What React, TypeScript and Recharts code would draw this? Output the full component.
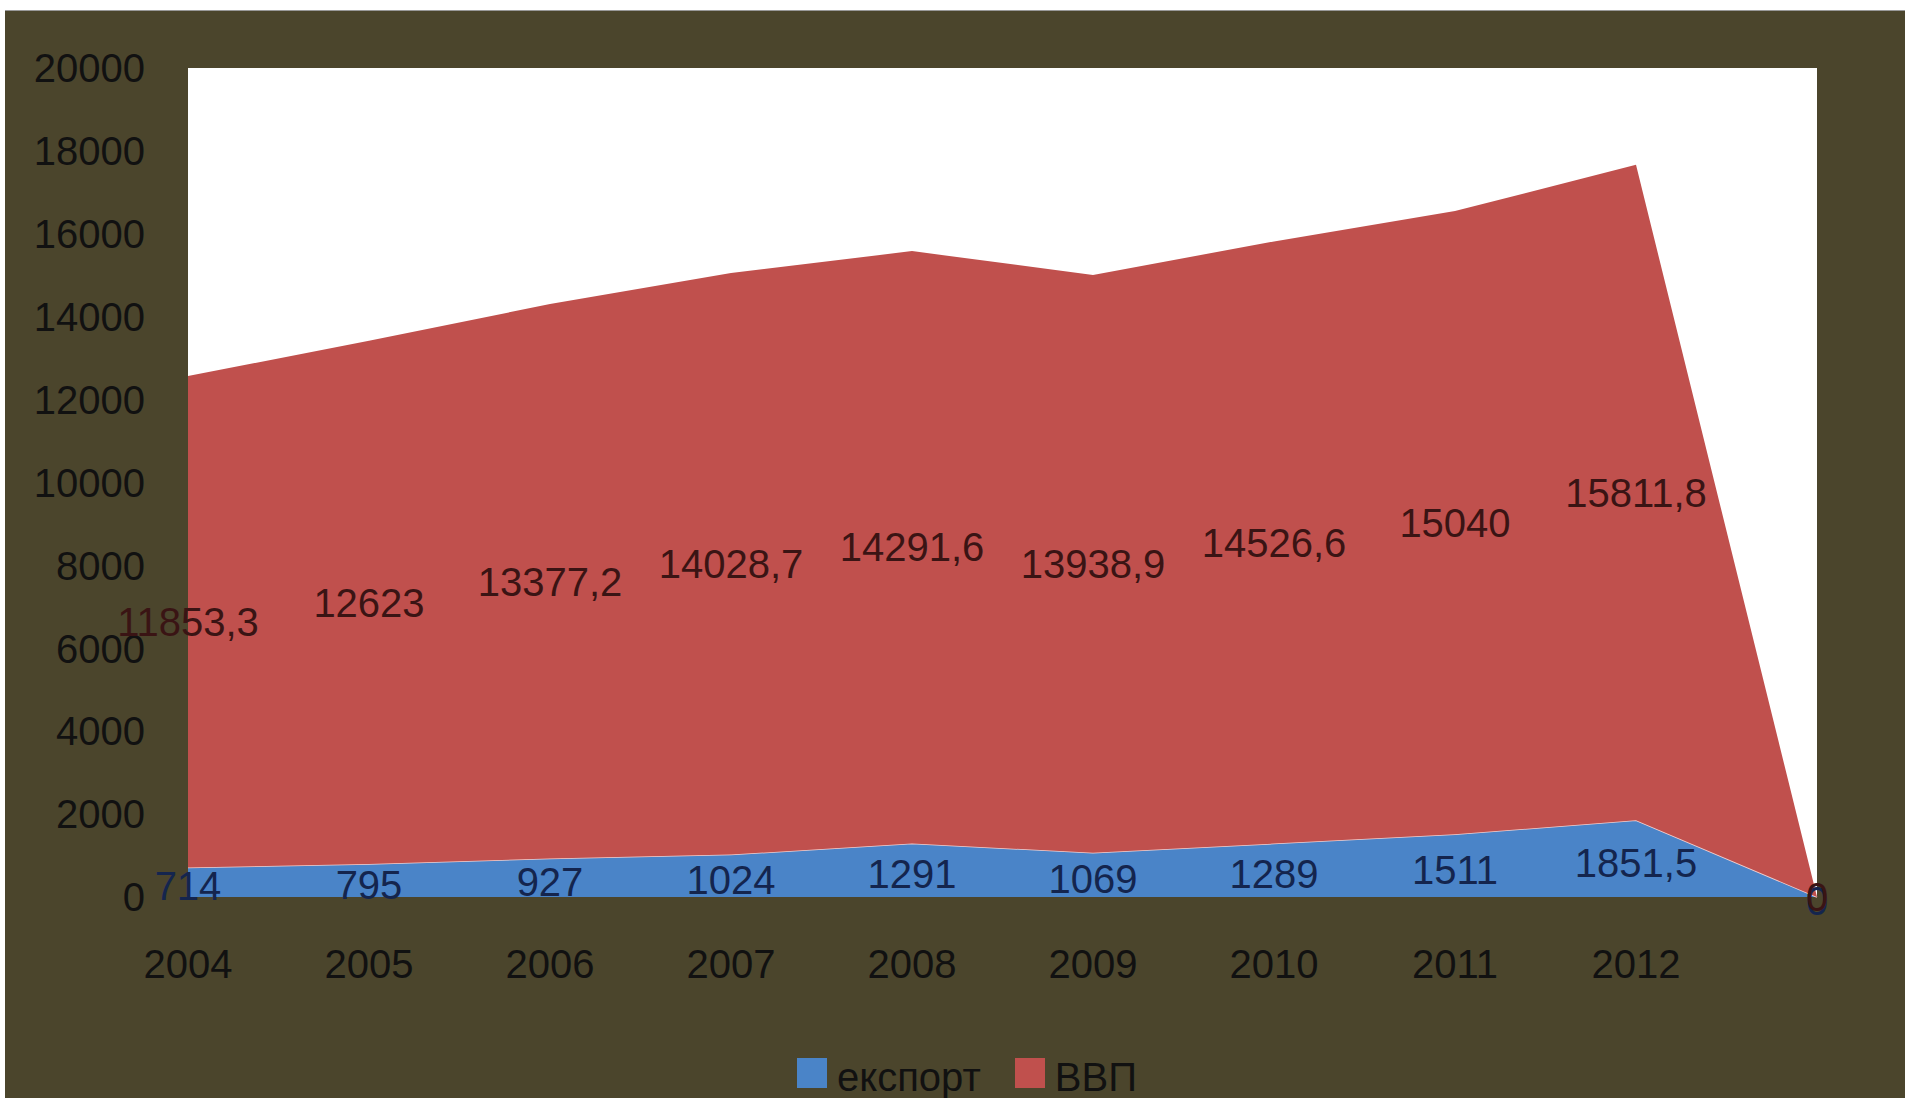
import {
  ComposedChart,
  Area,
  Line,
  XAxis,
  YAxis,
  CartesianGrid,
  LabelList,
  Legend,
} from 'recharts'

const years = ['2004', '2005', '2006', '2007', '2008', '2009', '2010', '2011', '2012', '']
const exportValues = [714, 795, 927, 1024, 1291, 1069, 1289, 1511, 1851.5, 0]
const gdpValues = [11853.3, 12623, 13377.2, 14028.7, 14291.6, 13938.9, 14526.6, 15040, 15811.8, 0]
const yTicks = [0, 2000, 4000, 6000, 8000, 10000, 12000, 14000, 16000, 18000, 20000]

const BG = '#4b452c'
const FONT = '"Liberation Sans", Arial, sans-serif'
const EXPORT_COLOR = '#4a84c8'
const GDP_COLOR = '#c0504d'

const legendItems = [
  { name: 'експорт', color: EXPORT_COLOR },
  { name: 'ВВП', color: GDP_COLOR },
]

// label anchors sit in the middle of each stacked band, like Excel does
const data = years.map((year, i) => ({
  year,
  export: exportValues[i],
  gdp: gdpValues[i],
  exportMid: exportValues[i] / 2,
  gdpMid: exportValues[i] + gdpValues[i] / 2,
}))

const fmt = (v: any) => String(v).replace('.', ',')

function LegendContent() {
  return (
    <div style={{ display: 'flex', alignItems: 'flex-start', fontFamily: FONT, fontSize: 40, lineHeight: '40px', color: '#111' }}>
      {legendItems.map((p, i) => (
        <div key={i} style={{ display: 'flex', alignItems: 'flex-start', marginRight: 34 }}>
          <div style={{ width: 30, height: 30, marginTop: 1, marginRight: 10, background: p.color }} />
          <span>{p.name}</span>
        </div>
      ))}
    </div>
  )
}

export default function App() {
  return (
    <div style={{ position: 'absolute', left: 0, top: 0, width: 1905, height: 1098, background: '#fff', overflow: 'hidden' }}>
      <div style={{ position: 'absolute', left: 5, top: 10, width: 1900, height: 1088, background: BG, borderTop: '1px solid #999' }} />
      <div style={{ position: 'absolute', left: 0, top: 0 }}>
        <ComposedChart
          width={1905}
          height={1098}
          data={data}
          margin={{ top: 68, right: 88, left: 0, bottom: 101 }}
          style={{ fontFamily: FONT }}
        >
          <CartesianGrid horizontal={false} vertical={false} fill="#ffffff" stroke="none" />
          <XAxis
            dataKey="year"
            scale="point"
            height={100}
            axisLine={false}
            tickLine={false}
            tickSize={0}
            tickMargin={53}
            interval={0}
            tick={{ fontSize: 40, fill: '#111' }}
          />
          <YAxis
            width={188}
            domain={[0, 20000]}
            ticks={yTicks}
            interval={0}
            axisLine={false}
            tickLine={false}
            tickSize={0}
            tickMargin={43}
            tick={{ fontSize: 40, fill: '#111' }}
          />
          <Area
            type="linear"
            dataKey="export"
            name="експорт"
            stackId="1"
            fill={EXPORT_COLOR}
            fillOpacity={1}
            stroke="#f2d0d0"
            strokeWidth={1.5}
            isAnimationActive={false}
          />
          <Area
            type="linear"
            dataKey="gdp"
            name="ВВП"
            stackId="1"
            fill={GDP_COLOR}
            fillOpacity={1}
            stroke="none"
            isAnimationActive={false}
          />
          <Line
            dataKey="exportMid"
            stroke="none"
            dot={false}
            activeDot={false}
            legendType="none"
            isAnimationActive={false}
          >
            <LabelList dataKey="export" position="center" formatter={fmt} fontSize={40} fill="#14254e" dy={4} />
          </Line>
          <Line
            dataKey="gdpMid"
            stroke="none"
            dot={false}
            activeDot={false}
            legendType="none"
            isAnimationActive={false}
          >
            <LabelList dataKey="gdp" position="center" formatter={fmt} fontSize={40} fill="#3a1414" />
          </Line>
          <Legend
            layout="horizontal"
            verticalAlign="middle"
            align="center"
            wrapperStyle={{ left: 797, top: 1057, width: 500 }}
            content={<LegendContent />}
          />
        </ComposedChart>
      </div>
    </div>
  )
}
